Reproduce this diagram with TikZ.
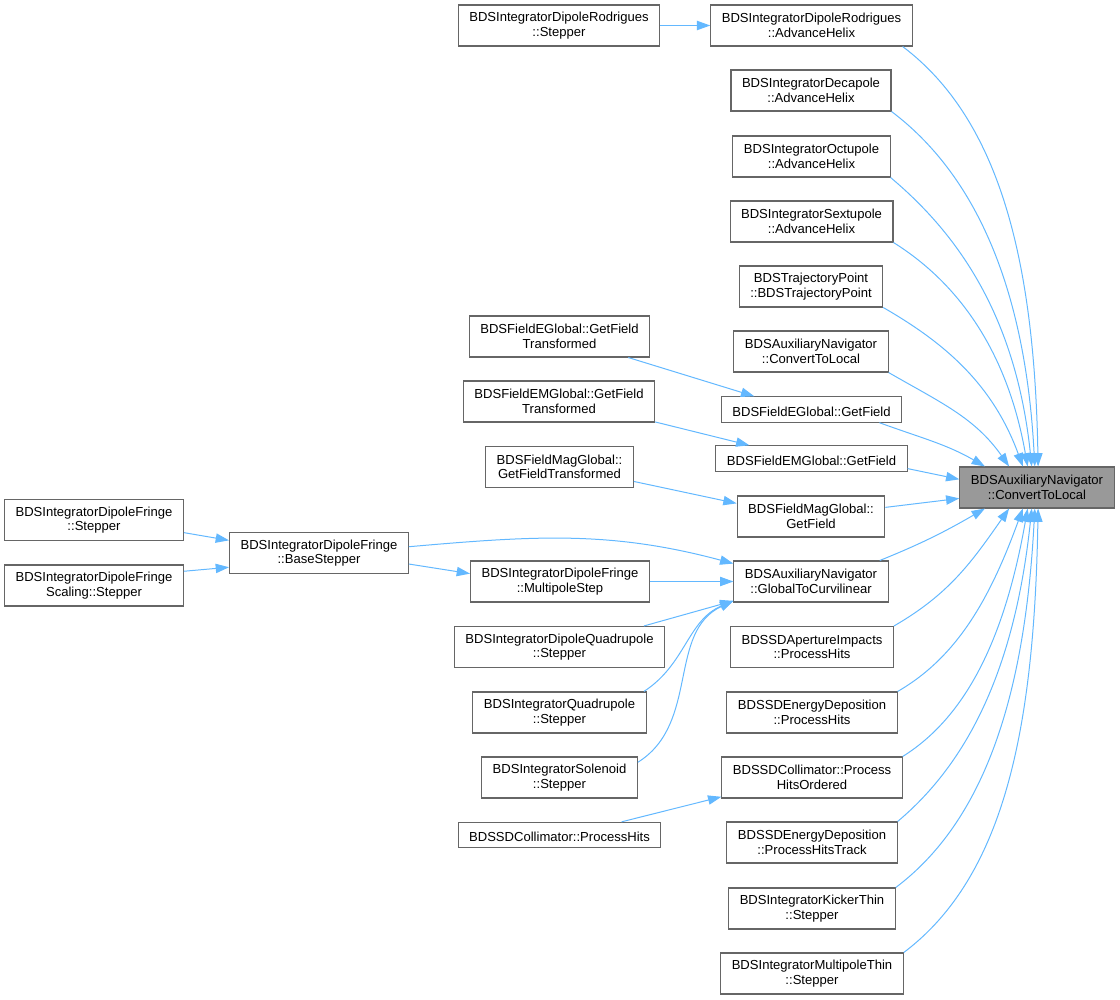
\documentclass[tikz,border=0pt]{standalone}
\usepackage{fontspec}
\setmainfont{Liberation Sans}
\usetikzlibrary{arrows.meta}
\definecolor{edgeblue}{HTML}{63B8FF}
\definecolor{framegray}{HTML}{666666}
\definecolor{hitgray}{HTML}{999999}

\begin{document}
\begin{tikzpicture}[x=0.75pt, y=-0.75pt,
    fn/.style={draw=framegray, line width=0.8pt, fill=white, align=center,
      font=\fontsize{9.8}{10.8}\selectfont, inner xsep=8.25pt, inner ysep=2pt,
      minimum height=30.75pt, execute at begin node={\rule{0pt}{10pt}}},
    fnone/.style={fn, minimum height=19pt},
    hit/.style={fn, fill=hitgray},
    call/.style={draw=edgeblue, line width=0.75pt, -{Triangle[length=10pt, width=7pt]}}]
    \useasboundingbox (0,0) rectangle (1120,999);

    % the function itself
    \node[hit] (tgt) at (1037,487.5) {BDSAuxiliaryNavigator\\::ConvertToLocal};

    % direct callers
    \node[fn] (rodA) at (811.5,25.5) {BDSIntegratorDipoleRodrigues\\::AdvanceHelix};
    \node[fn] (deca) at (811,90.5) {BDSIntegratorDecapole\\::AdvanceHelix};
    \node[fn] (octu) at (811.5,156.5) {BDSIntegratorOctupole\\::AdvanceHelix};
    \node[fn] (sext) at (811.5,221.5) {BDSIntegratorSextupole\\::AdvanceHelix};
    \node[fn] (traj) at (811,286.5) {BDSTrajectoryPoint\\::BDSTrajectoryPoint};
    \node[fn] (ctl) at (811,351.5) {BDSAuxiliaryNavigator\\::ConvertToLocal};
    \node[fnone] (egf) at (811.5,409.5) {BDSFieldEGlobal::GetField};
    \node[fnone] (emgf) at (811.5,458.5) {BDSFieldEMGlobal::GetField};
    \node[fn] (mgf) at (811,516.5) {BDSFieldMagGlobal::\\GetField};
    \node[fn] (gtc) at (811,581.5) {BDSAuxiliaryNavigator\\::GlobalToCurvilinear};
    \node[fn] (sdap) at (812,647) {BDSSDApertureImpacts\\::ProcessHits};
    \node[fn] (sdep) at (812,712.5) {BDSSDEnergyDeposition\\::ProcessHits};
    \node[fn] (pho) at (812,777.5) {BDSSDCollimator::Process\\HitsOrdered};
    \node[fn] (pht) at (812,842.5) {BDSSDEnergyDeposition\\::ProcessHitsTrack};
    \node[fn] (kick) at (812,908.5) {BDSIntegratorKickerThin\\::Stepper};
    \node[fn] (mpt) at (812,973.5) {BDSIntegratorMultipoleThin\\::Stepper};

    % second level
    \node[fn] (rodS) at (559,25.5) {BDSIntegratorDipoleRodrigues\\::Stepper};
    \node[fn] (egft) at (559.5,336.5) {BDSFieldEGlobal::GetField\\Transformed};
    \node[fn] (emgft) at (559,401.5) {BDSFieldEMGlobal::GetField\\Transformed};
    \node[fn] (mgft) at (559.5,467) {BDSFieldMagGlobal::\\GetFieldTransformed};
    \node[fn] (mps) at (560,581.5) {BDSIntegratorDipoleFringe\\::MultipoleStep};
    \node[fn] (dqs) at (559.5,647) {BDSIntegratorDipoleQuadrupole\\::Stepper};
    \node[fn] (qs) at (559.5,712.5) {BDSIntegratorQuadrupole\\::Stepper};
    \node[fn] (sol) at (559.5,777.5) {BDSIntegratorSolenoid\\::Stepper};
    \node[fnone] (scp) at (559.5,835) {BDSSDCollimator::ProcessHits};

    % fringe steppers
    \node[fn] (bs) at (319,553) {BDSIntegratorDipoleFringe\\::BaseStepper};
    \node[fn] (fs) at (94,520) {BDSIntegratorDipoleFringe\\::Stepper};
    \node[fn] (fss) at (94,585.5) {BDSIntegratorDipoleFringe\\Scaling::Stepper};

    % into the target, from above
    \draw[call] (rodA.-13) to[out=-37, in=91, out looseness=0.7, in looseness=1.2] (tgt.87);
    \draw[call] (deca.south east) to[out=-37, in=93, out looseness=0.7, in looseness=1.2] (tgt.96);
    \draw[call] (octu.south east) to[out=-40, in=96, out looseness=0.7, in looseness=1.2] (tgt.104);
    \draw[call] (sext.south east) to[out=-32, in=100, out looseness=0.7, in looseness=1.2] (tgt.114);
    \draw[call] (traj.south east) to[out=-30, in=110, out looseness=0.8, in looseness=1.1] (tgt.124);
    \draw[call] (ctl.south east) to[out=-30, in=125] (tgt.143);
    \draw[call] (egf.-11) to[out=-20, in=150] (tgt.158);
    \draw[call] (emgf.-6) -- (tgt.174);
    \draw[call] (mgf.7) -- (tgt.188);

    % into the target, from below
    \draw[call] (gtc.17) to[out=22, in=-150] (tgt.-158);
    \draw[call] (sdap.north east) to[out=30, in=-125] (tgt.-143);
    \draw[call] (sdep.north east) to[out=30, in=-110, out looseness=0.8, in looseness=1.1] (tgt.-124);
    \draw[call] (pho.north east) to[out=32, in=-100, out looseness=0.7, in looseness=1.2] (tgt.-114);
    \draw[call] (pht.north east) to[out=40, in=-96, out looseness=0.7, in looseness=1.2] (tgt.-104);
    \draw[call] (kick.north east) to[out=37, in=-93, out looseness=0.7, in looseness=1.2] (tgt.-96);
    \draw[call] (mpt.north east) to[out=37, in=-91, out looseness=0.7, in looseness=1.2] (tgt.-87);

    % the rest
    \draw[call] (rodS) -- (rodA);
    \draw[call] (egft.-17) -- (egf.167);
    \draw[call] (emgft.-12) -- (emgf.168);
    \draw[call] (mgft.-11) -- (mgf.170);
    \draw[call] (fs.-8) -- (bs.172);
    \draw[call] (fss.9) -- (bs.189);
    \draw[call] (bs.-7) -- (mps.175);
    \draw[call] (bs.4) to[out=5, in=165] (gtc.167);
    \draw[call] (mps) -- (gtc);
    \draw[call] (dqs.14) -- (gtc.194);
    \draw[call] (qs.14) to[out=33, in=203] (gtc.194);
    \draw[call] (sol.11) to[out=32, in=205] (gtc.194);
    \draw[call] (scp.12) -- (pho.192);
\end{tikzpicture}
\end{document}
